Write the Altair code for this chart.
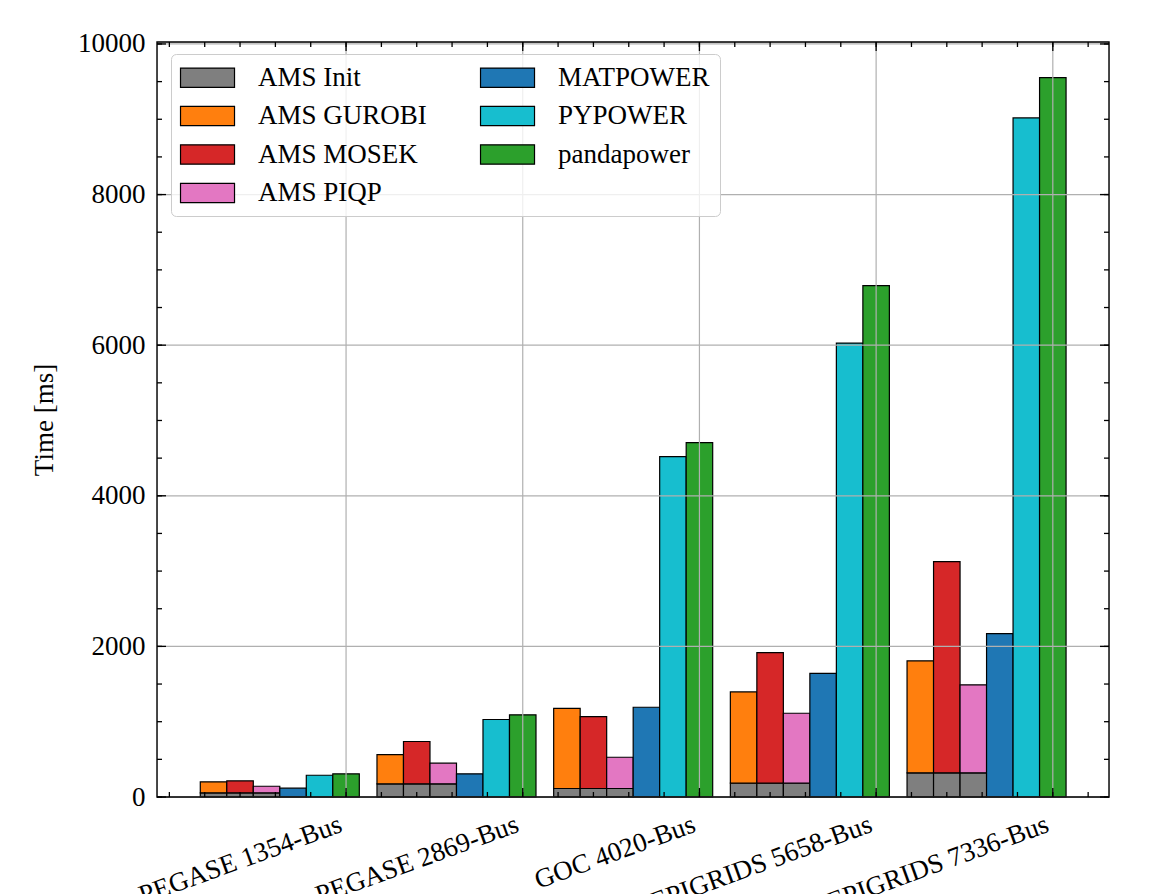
import altair as alt
import pandas as pd

# ---- data ----
cases = ["PEGASE 1354-Bus", "PEGASE 2869-Bus", "GOC 4020-Bus",
         "EPIGRIDS 5658-Bus", "EPIGRIDS 7336-Bus"]
ams_init = [56, 175, 113, 183, 321]
ams_gurobi = [146, 389, 1065, 1213, 1487]
ams_mosek = [159, 562, 955, 1735, 2804]
ams_piqp = [87, 274, 415, 929, 1168]
matpower = [117, 308, 1192, 1643, 2170]
pypower = [289, 1029, 4519, 6028, 9018]
pandapower = [308, 1091, 4705, 6792, 9552]

series_colors = {
    "AMS Init": "#7f7f7f",
    "AMS GUROBI": "#ff7f0e",
    "AMS MOSEK": "#d62728",
    "AMS PIQP": "#e377c2",
    "MATPOWER": "#1f77b4",
    "PYPOWER": "#17becf",
    "pandapower": "#2ca02c",
}
legend_order = ["AMS Init", "AMS GUROBI", "AMS MOSEK", "AMS PIQP",
                "MATPOWER", "PYPOWER", "pandapower"]

y_major = [0, 2000, 4000, 6000, 8000, 10000]
y_minor = [v * 500 for v in range(21)]
x_major = [0, 1, 2, 3, 4]
x_minor = [round(-1 + 0.2 * k, 2) for k in range(27)]

BAR_W = 0.15
W, H = 952, 755
FONT = "Liberation Serif"
FS = 27

rows = []
for i in range(len(cases)):
    stacked = [("AMS GUROBI", ams_gurobi[i]), ("AMS MOSEK", ams_mosek[i]),
               ("AMS PIQP", ams_piqp[i])]
    plain = [("MATPOWER", matpower[i]), ("PYPOWER", pypower[i]),
             ("pandapower", pandapower[i])]
    for j, (name, val) in enumerate(stacked + plain):
        x0 = i + (j - 5) * BAR_W - BAR_W / 2
        x1 = x0 + BAR_W
        if j < 3:
            rows.append(dict(series="AMS Init", x0=x0, x1=x1, y0=0, y1=ams_init[i]))
            rows.append(dict(series=name, x0=x0, x1=x1, y0=ams_init[i],
                             y1=ams_init[i] + val))
        else:
            rows.append(dict(series=name, x0=x0, x1=x1, y0=0, y1=val))
bars_df = pd.DataFrame(rows)

xs = alt.Scale(domain=[-1.07, 4.318], nice=False, zero=False)
ys = alt.Scale(domain=[0, 10026], nice=False, zero=False)

label_expr = "[" + ",".join("'" + c + "'" for c in cases) + "][datum.value]"

bars = alt.Chart(bars_df).mark_rect(stroke="black", strokeWidth=1.2).encode(
    x=alt.X("x0:Q", scale=xs, axis=alt.Axis(
        values=x_major, labelExpr=label_expr, labelAngle=340,
        labelAlign="right", labelBaseline="top", labelPadding=14,
        labelOffset=-10,
        ticks=False, tickSize=0, domain=False, grid=False, title=None,
        labelFont=FONT, labelFontSize=FS, labelColor="black", labelLimit=500,
        labelFlush=False, labelOverlap=False, labelBound=False)),
    x2="x1:Q",
    y=alt.Y("y1:Q", scale=ys, axis=alt.Axis(
        values=y_major, format="d", ticks=False, tickSize=0, domain=False,
        grid=False, labelPadding=12, labelFont=FONT, labelFontSize=FS,
        labelColor="black", labelFlush=False, labelOverlap=False,
        title="Time [ms]", titleFont=FONT, titleFontSize=FS,
        titleFontWeight="normal", titleColor="black", titlePadding=19)),
    y2="y0:Q",
    fill=alt.Color("series:N",
                   scale=alt.Scale(domain=legend_order,
                                   range=[series_colors[s] for s in legend_order]),
                   legend=alt.Legend(
                       title=None, orient="none", legendX=14, legendY=12,
                       columns=2, symbolType="M-1.45,-1H4.15V1H-1.45Z",
                       symbolSize=372, symbolStrokeColor="black",
                       symbolStrokeWidth=1.2, symbolOpacity=1,
                       labelFont=FONT, labelFontSize=FS, labelColor="black",
                       labelOffset=50, rowPadding=10.5, columnPadding=51,
                       padding=10, fillColor="rgba(255,255,255,0.8)",
                       strokeColor="#cccccc", cornerRadius=5, labelLimit=400,
                       zindex=2)),
)

def df_of(vals):
    return pd.DataFrame({"v": vals})

grid_y = alt.Chart(df_of(y_major)).mark_rule(color="#b0b0b0", strokeWidth=1.2).encode(
    y=alt.Y("v:Q", scale=ys, axis=None))
grid_x = alt.Chart(df_of(x_major)).mark_rule(color="#b0b0b0", strokeWidth=1.2).encode(
    x=alt.X("v:Q", scale=xs, axis=None))

def yticks(vals, a, b):
    return alt.Chart(df_of(vals)).mark_rule(color="black", strokeWidth=1.3).encode(
        y=alt.Y("v:Q", scale=ys, axis=None), x=alt.value(a), x2=alt.value(b))

def xticks(vals, a, b):
    return alt.Chart(df_of(vals)).mark_rule(color="black", strokeWidth=1.3).encode(
        x=alt.X("v:Q", scale=xs, axis=None), y=alt.value(a), y2=alt.value(b))

ticks = [
    yticks(y_major, 0, 9), yticks(y_minor, 0, 5),
    yticks(y_major, W, W - 9), yticks(y_minor, W, W - 5),
    xticks(x_major, H, H - 9), xticks(x_minor, H, H - 5),
    xticks(x_major, 0, 9), xticks(x_minor, 0, 5),
]

frame = alt.Chart(df_of([0])).mark_rect(
    fillOpacity=0, stroke="black", strokeWidth=1.4).encode(
    x=alt.value(0), x2=alt.value(W), y=alt.value(0), y2=alt.value(H))

chart = alt.layer(bars, grid_y, grid_x, *ticks, frame).resolve_axis(
    x="independent", y="independent").properties(
    width=W, height=H,
    autosize=alt.AutoSizeParams(type="none"),
    padding={"left": 157, "top": 42, "right": 44, "bottom": 97},
).configure_view(stroke=None).configure_legend(strokeWidth=1.5).configure(
    font=FONT)

chart.save("out.html", embed_options={"renderer": "svg", "actions": False})
